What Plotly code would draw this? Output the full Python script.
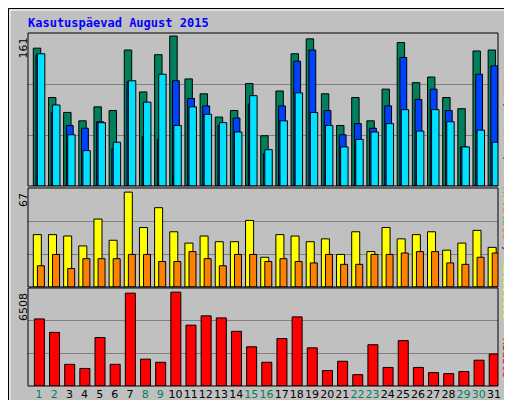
import plotly.graph_objects as go

days = list(range(1, 32))
hits = [148,95,79,70,85,81,146,101,141,161,115,99,74,81,110,54,102,142,158,99,65,95,70,104,154,111,117,95,83,145,146]
files = [141,79,65,62,69,40,112,53,50,113,94,86,65,73,88,35,86,134,146,81,55,67,62,86,138,93,104,81,42,120,129]
pages = [142,87,55,38,68,47,113,90,120,65,85,77,68,58,97,39,70,100,79,65,42,50,58,67,82,59,82,69,42,60,47]
visits = [37,37,36,29,48,33,67,42,56,39,31,36,32,32,47,21,37,36,32,34,23,39,25,42,34,37,39,26,31,40,28]
sites = [15,23,13,20,20,20,23,23,18,18,25,20,15,23,23,18,20,18,17,23,16,16,23,23,24,25,25,17,16,21,24]
kbytes = [4649,3719,1502,1216,3361,1502,6437,1860,1645,6508,4220,4863,4720,3791,2718,1645,3290,4792,2646,1073,1716,787,2861,1287,3147,1287,930,858,1001,1788,2217]
weekend = [1,2,8,9,15,16,22,23,29,30]
title = "Kasutuspäevad August 2015"

W, H = 512, 400
L, R, T, B = 20, 22, 25, 22
PW, PH = W - L - R, H - T - B
def px(x): return (x - L) / PW
def py(y): return (H - B - y) / PH

panels = [("y", 25, 178), ("y2", 180, 279), ("y3", 280, 378)]
fig = go.Figure()
line = dict(color="black", width=1)
def bar(y, ax, color, off, wid, name):
    fig.add_trace(go.Bar(x=days, y=y, yaxis=ax, marker=dict(color=color, line=line),
                         offset=off, width=wid, name=name, showlegend=False))
bar(hits, "y", "#00805C", -0.38, 0.49, "Pöördumisi")
bar(files, "y", "#0040FF", -0.2, 0.45, "Faile")
bar(pages, "y", "#00E0FF", -0.11, 0.49, "Lehekülgi")
bar(visits, "y2", "#FFFF00", -0.38, 0.53, "Külastusi")
bar(sites, "y2", "#FF8000", -0.11, 0.46, "Arvuteid")
bar(kbytes, "y3", "#FF0000", -0.31, 0.66, "KBaite")

ticktext = [f'<span style="color:{"#00805C" if d in weekend else "black"}">{d}</span>' for d in days]
fig.update_layout(
    width=W, height=H, margin=dict(l=L, r=R, t=T, b=B, autoexpand=False),
    paper_bgcolor="#C0C0C0", plot_bgcolor="#C0C0C0", barmode="overlay",
    font=dict(family="DejaVu Sans Mono", size=10, color="black"),
    xaxis=dict(range=[0.27, 31.27], tickvals=days, ticktext=ticktext, showgrid=False,
               zeroline=False, ticks="", tickangle=0, anchor="y3", automargin=False,
               tickfont=dict(size=11, family="DejaVu Sans")),
)
for (ax, top, bot), data, fac in zip(panels, [hits, visits, kbytes], [150/147, 96/92, 95/91]):
    m = max(data) * fac
    key = "yaxis" if ax == "y" else "yaxis" + ax[1:]
    fig.layout[key] = dict(domain=[py(bot), py(top)], range=[0, m], tickvals=[m/3, 2*m/3],
                           showticklabels=False, ticks="", showgrid=True, gridcolor="#808080",
                           gridwidth=1, zeroline=False, automargin=False)
    fig.add_shape(type="rect", xref="paper", yref="paper", x0=0, x1=1, y0=py(bot), y1=py(top),
                  line=dict(color="black", width=1), layer="above")
    fig.add_annotation(text=str(max(data)), xref="paper", yref="paper", x=px(15), y=py(top + 3),
                       xanchor="center", yanchor="top", textangle=-90, showarrow=False,
                       font=dict(size=11, family="DejaVu Sans"))

def rlab(parts, yc):
    txt = '<span style="color:black"> / </span>'.join(f'<span style="color:{c}">{t}</span>' for t, c in parts)
    fig.add_annotation(text=txt, xref="paper", yref="paper", x=px(499), y=py(yc), textangle=90,
                       showarrow=False, xanchor="center", yanchor="middle",
                       font=dict(size=11, family="DejaVu Sans Mono"))
rlab([("Pöördumisi", "#00805C"), ("Faile", "#0040FF"), ("Lehekülgi", "#00E0FF")], 122)
rlab([("Arvuteid", "#FF8000"), ("Külastusi", "#FFFF00")], 245)
rlab([("KBaite", "#FF0000")], 350)

fig.add_annotation(text=f"<b>{title}</b>", xref="paper", yref="paper", x=px(18), y=py(15),
                   xanchor="left", yanchor="middle", showarrow=False,
                   font=dict(size=12, color="#0000FF", family="DejaVu Sans Mono"))
fig.add_shape(type="rect", xref="paper", yref="paper", x0=px(506), x1=px(511), y0=py(399), y1=py(6),
              fillcolor="#808080", line=dict(width=0))
fig.add_shape(type="rect", xref="paper", yref="paper", x0=px(6), x1=px(511), y0=py(399), y1=py(394),
              fillcolor="#808080", line=dict(width=0))
fig.add_shape(type="rect", xref="paper", yref="paper", x0=px(0.5), x1=px(511.5), y0=py(399.5), y1=py(0.5),
              line=dict(color="black", width=1))
fig.add_shape(type="rect", xref="paper", yref="paper", x0=px(2), x1=px(505), y0=py(393), y1=py(2),
              line=dict(color="white", width=1))
fig.write_html("out.html")
